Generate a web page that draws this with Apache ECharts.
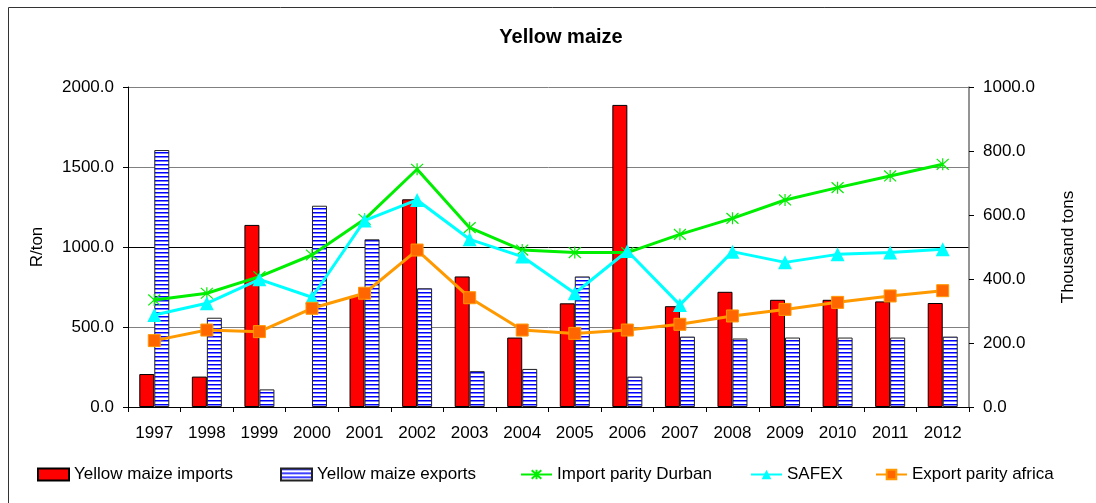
<!DOCTYPE html>
<html>
<head>
<meta charset="utf-8">
<title>Yellow maize</title>
<script src="https://cdn.jsdelivr.net/npm/echarts@6/dist/echarts.min.js"></script>
<style>
    html, body { margin: 0; padding: 0; background: #fff; }
    #chart { width: 1096px; height: 503px; }
</style>
</head>
<body>
<div id="chart"></div>
<script>
// 数据
const years = ['1997', '1998', '1999', '2000', '2001', '2002', '2003', '2004',
    '2005', '2006', '2007', '2008', '2009', '2010', '2011', '2012'];
// Thousand tons (right axis)
const imports = [103, 95, 569, 0, 347, 649, 408, 217, 324, 944, 315, 360, 335, 335, 330, 325];
const exports = [803, 279, 55, 629, 524, 371, 112, 119, 408, 95, 220, 214, 217, 217, 217, 220];
// R/ton (left axis)
const importParityDurban = [669, 711, 815, 950, 1173, 1486, 1121, 981, 965, 965, 1079, 1179, 1294, 1371, 1444, 1517];
const safex = [575, 648, 798, 686, 1165, 1294, 1048, 940, 711, 975, 638, 971, 904, 954, 965, 986];
const exportParityAfrica = [415, 481, 471, 617, 711, 981, 683, 481, 460, 481, 517, 569, 610, 654, 694, 727];

const leftTicks = [0, 500, 1000, 1500, 2000];
const rightTicks = [0, 200, 400, 600, 800, 1000];

const FONT = 'Liberation Sans, Arial, sans-serif';

// 横条纹填充
function stripePattern() {
    const c = document.createElement('canvas');
    c.width = 4;
    c.height = 4;
    const ctx = c.getContext('2d');
    ctx.fillStyle = '#ffffff';
    ctx.fillRect(0, 0, 4, 4);
    ctx.fillStyle = '#0000ff';
    ctx.fillRect(0, 0, 4, 1);
    ctx.fillStyle = '#7f7fff';
    ctx.fillRect(0, 1, 4, 1);
    return { image: c, repeat: 'repeat' };
}

// 0 值不画柱子
const hideZero = arr => arr.map(v => (v === 0 ? '-' : v));

const chart = echarts.init(document.getElementById('chart'));
window.addEventListener('resize', () => chart.resize());

const legendBase = {
    top: 461,
    itemWidth: 31,
    itemHeight: 12,
    itemGap: 5,
    textStyle: { fontFamily: FONT, fontSize: 17, color: '#000' }
};
const legendItems = [
    ['Yellow maize imports', 32, 'rect'],
    ['Yellow maize exports', 275, 'rect'],
    ['Import parity Durban', 515],
    ['SAFEX', 745],
    ['Export parity africa', 870]
];

const option = {
    backgroundColor: '#fff',
    animation: false,
    textStyle: { fontFamily: FONT },
    title: {
        text: 'Yellow maize',
        left: 556,
        top: 22,
        textAlign: 'center',
        textStyle: { fontFamily: FONT, fontSize: 20, fontWeight: 'bold', color: '#000' }
    },
    graphic: [{
        type: 'rect',
        shape: { x: 8.5, y: 7.5, width: 1200, height: 600 },
        style: { fill: 'none', stroke: '#333', lineWidth: 1 },
        silent: true
    }],
    legend: legendItems.map(([name, left, icon]) => ({
        ...legendBase,
        left,
        data: [icon ? { name, icon } : name]
    })),
    grid: { left: 128, right: 127, top: 87, bottom: 96 },
    xAxis: {
        type: 'category',
        data: years,
        boundaryGap: true,
        axisLine: { lineStyle: { color: '#000', width: 1 } },
        axisTick: { show: true, length: 5, lineStyle: { color: '#000' } },
        axisLabel: { color: '#000', fontSize: 17, margin: 18 },
        splitLine: { show: false }
    },
    yAxis: [{
        type: 'value',
        name: 'R/ton',
        nameLocation: 'middle',
        nameRotate: 90,
        nameGap: 82,
        nameTextStyle: { fontSize: 17, color: '#000' },
        min: leftTicks[0],
        max: leftTicks[leftTicks.length - 1],
        interval: 500,
        axisLine: { show: true, lineStyle: { color: '#000' } },
        axisTick: { show: true, length: 5, inside: false, lineStyle: { color: '#000' } },
        axisLabel: { color: '#000', fontSize: 17, margin: 14, formatter: v => v.toFixed(1) },
        splitLine: {
            show: true,
            lineStyle: { color: ['#808080', '#808080', '#000000', '#808080', '#808080'], width: 1 }
        }
    }, {
        type: 'value',
        name: 'Thousand tons',
        nameLocation: 'middle',
        nameRotate: 90,
        nameGap: 91,
        nameTextStyle: { fontSize: 17, color: '#000' },
        min: rightTicks[0],
        max: rightTicks[rightTicks.length - 1],
        interval: 200,
        position: 'right',
        axisLine: { show: true, lineStyle: { color: '#707070', width: 1.5 } },
        axisTick: { show: true, length: 5, lineStyle: { color: '#000' } },
        axisLabel: { color: '#000', fontSize: 17, margin: 14, formatter: v => v.toFixed(1) },
        splitLine: { show: false }
    }],
    series: [{
        name: 'Yellow maize imports',
        type: 'bar',
        yAxisIndex: 1,
        data: hideZero(imports),
        barWidth: 15,
        barGap: '0%',
        itemStyle: { color: '#ff0000', borderColor: '#000', borderWidth: 1 }
    }, {
        name: 'Yellow maize exports',
        type: 'bar',
        yAxisIndex: 1,
        data: hideZero(exports),
        barWidth: 15,
        barGap: '0%',
        itemStyle: { color: stripePattern(), borderColor: '#222', borderWidth: 1 }
    }, {
        name: 'Import parity Durban',
        type: 'line',
        yAxisIndex: 0,
        data: importParityDurban,
        symbol: 'path://M5,0 L5,10 M0.5,0.5 L9.5,9.5 M0.5,9.5 L9.5,0.5',
        symbolSize: 12,
        lineStyle: { color: '#00ee00', width: 3 },
        itemStyle: { color: 'rgba(0,0,0,0)', borderColor: '#00ee00', borderWidth: 1.2 },
        z: 5
    }, {
        name: 'SAFEX',
        type: 'line',
        yAxisIndex: 0,
        data: safex,
        symbol: 'triangle',
        symbolSize: 14,
        lineStyle: { color: '#00ffff', width: 3 },
        itemStyle: { color: '#00ffff', borderColor: '#00ffff', borderWidth: 0 },
        z: 6
    }, {
        name: 'Export parity africa',
        type: 'line',
        yAxisIndex: 0,
        data: exportParityAfrica,
        symbol: 'rect',
        symbolSize: 12,
        lineStyle: { color: '#ff9900', width: 3 },
        itemStyle: { color: '#ff6600', borderColor: '#ff9900', borderWidth: 1 },
        z: 7
    }]
};

chart.setOption(option);
</script>
</body>
</html>
